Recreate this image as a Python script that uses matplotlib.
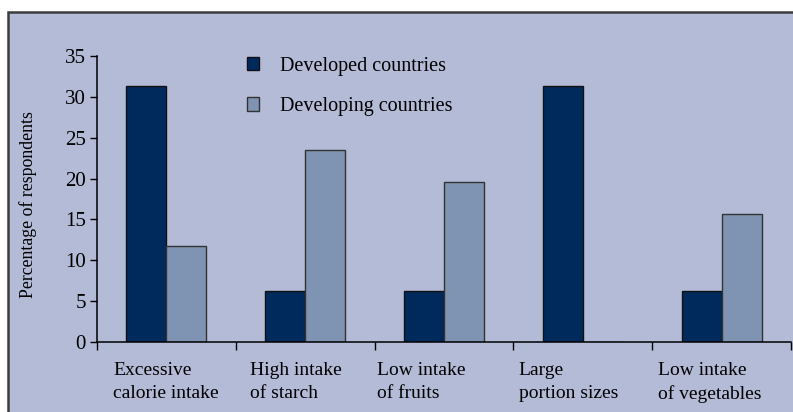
import matplotlib
matplotlib.use("Agg")
import matplotlib.pyplot as plt
from matplotlib.patches import Rectangle, Patch
import numpy as np

categories = [
    "Excessive\ncalorie intake",
    "High intake\nof starch",
    "Low intake\nof fruits",
    "Large\nportion sizes",
    "Low intake\nof vegetables",
]
developed = [31.3, 6.3, 6.3, 31.3, 6.3]
developing = [11.8, 23.5, 19.6, 0.0, 15.7]
series_names = ["Developed countries", "Developing countries"]

# label left edge, offset from the category boundary (category units)
label_offsets = [0.115, 0.10, 0.015, 0.037, 0.043]

bg = "#b3bbd6"
dark = "#012a5c"
light = "#7f93b3"

plt.rcParams['font.family'] = ['Liberation Serif', 'DejaVu Serif']

fig = plt.figure(figsize=(7.93, 4.12), dpi=100)
fig.patches.append(Rectangle((7.5 / 793, -0.01), 1.0, (412 - 11.5) / 412 + 0.01,
                             transform=fig.transFigure, facecolor=bg,
                             edgecolor="#3c3c3c", linewidth=1.8, zorder=-10))

ax = fig.add_axes([97 / 793, (412 - 342) / 412, (791 - 97) / 793, (342 - 56) / 412])
ax.set_facecolor("none")

x = np.arange(len(categories)) + 0.5
w = 0.288
ax.bar(x - w / 2, developed, w, color=dark, edgecolor="#111111", linewidth=1.0)
ax.bar(x + w / 2, developing, w, color=light, edgecolor="#333333", linewidth=1.0)

ax.set_xlim(0, len(categories))
ax.set_ylim(0, 35)
ax.set_yticks(range(0, 36, 5))
ax.set_xticks(np.arange(len(categories) + 1))
ax.set_xticklabels([])
ax.tick_params(axis="y", direction="out", length=5, width=1, pad=3, labelsize=15)
ax.tick_params(axis="x", direction="out", length=6, width=1)

for s in ["top", "right"]:
    ax.spines[s].set_visible(False)
for s in ["left", "bottom"]:
    ax.spines[s].set_linewidth(1.1)

for i, (lab, off) in enumerate(zip(categories, label_offsets)):
    ax.text(i + off, -2.4, lab, ha="left", va="top", fontsize=14,
            linespacing=1.5, transform=ax.transData)

ax.set_ylabel("Percentage of respondents", fontsize=12.8)
ax.yaxis.set_label_coords(-0.086, 0.48)

handles = [Patch(facecolor=dark, edgecolor="#111111"),
           Patch(facecolor=light, edgecolor="#333333")]
ax.legend(handles, series_names, loc="upper left", bbox_to_anchor=(0.19, 1.06),
          frameon=False, fontsize=14.5, handlelength=0.62, handleheight=0.62,
          handletextpad=1.0, labelspacing=1.05)

plt.savefig("out.png", dpi=100)
